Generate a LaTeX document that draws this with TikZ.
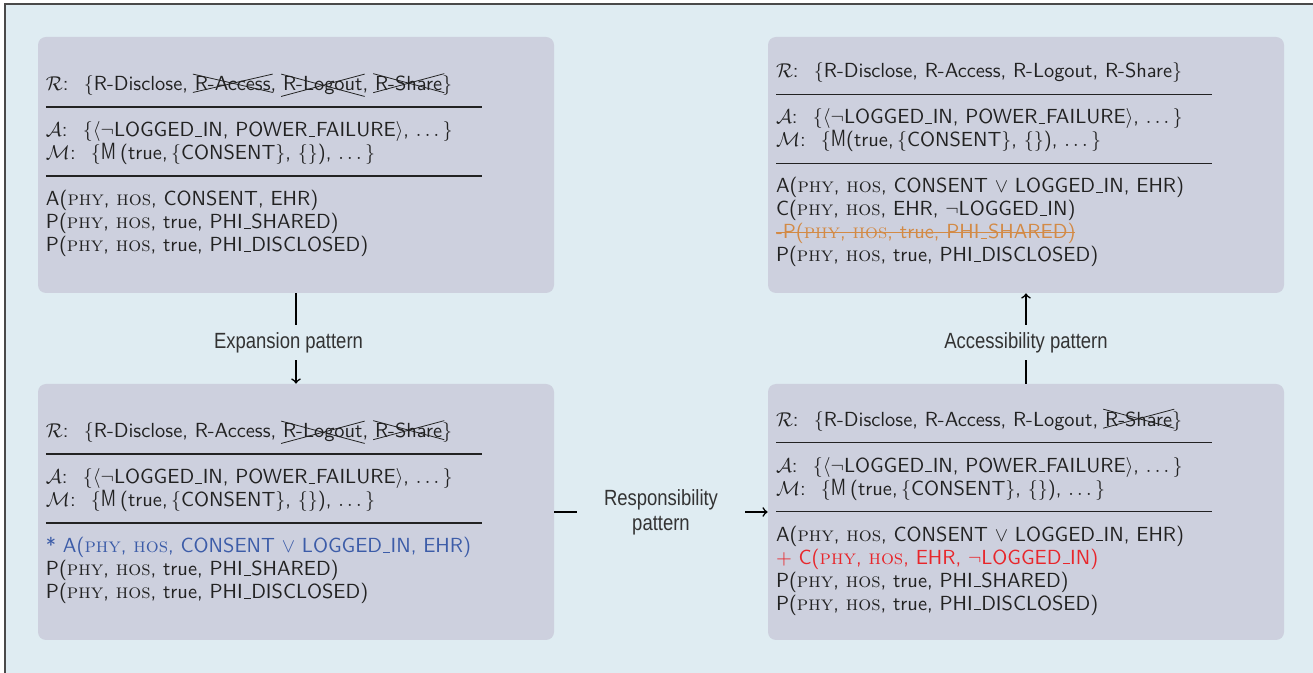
\documentclass[tikz,border=0pt]{standalone}
\usepackage{fontspec}
\usepackage{amsmath}
\usepackage{graphicx}
\usepackage{tikz}

\newfontfamily\labelfont[FakeStretch=0.84]{Liberation Sans}

\definecolor{bgblue}{HTML}{DFECF2}
\definecolor{cardgray}{HTML}{CDD0DE}
\definecolor{frameline}{HTML}{4A4A4A}
\definecolor{textdark}{HTML}{222222}
\definecolor{labelgray}{HTML}{333333}
\definecolor{addred}{HTML}{E8262B}
\definecolor{droporange}{HTML}{D38A45}
\definecolor{modblue}{HTML}{3C5CA8}

\newcommand{\actor}[1]{\textrm{\textsc{#1}}}
\newcommand{\usc}{\kern.06em\rule[-0.1pt]{.33em}{.45pt}\kern.03em}
\newcommand{\secline}{\rule[3pt]{218pt}{0.7pt}}
\newcommand{\lead}[1]{$\mathcal{#1}$:\hspace{0.75em}}
\newcommand{\tallM}{\scalebox{0.85}[1.15]{M}}
% crossed-out role, two thin diagonals over the word
\newcommand{\crossout}[1]{\leavevmode\setbox0\hbox{#1}%
  \pgfmathsetmacro\xang{atan2(\the\dimexpr\ht0+\dp0+2pt\relax,\the\dimexpr\wd0+2pt\relax)}%
  \pgfmathsetmacro\xlen{veclen(\the\dimexpr\ht0+\dp0+2pt\relax,\the\dimexpr\wd0+2pt\relax)}%
  \rlap{\kern-1pt\raisebox{\dimexpr-\dp0-1pt\relax}{\rotatebox{\xang}{\rule{\xlen pt}{0.4pt}}}}%
  \rlap{\kern-1pt\raisebox{\dimexpr\ht0+1pt\relax}{\rotatebox{-\xang}{\rule{\xlen pt}{0.4pt}}}}%
  \box0}
\newcommand{\strike}[1]{\leavevmode\setbox0\hbox{#1}\rlap{\rule[3pt]{\wd0}{0.5pt}}\box0}

\tikzset{
  card/.style={fill=cardgray, rounded corners=4pt, minimum width=258pt,
    minimum height=128pt, text width=250pt, inner xsep=4pt, inner ysep=0pt,
    align=left, text=textdark, font=\sffamily\fontsize{10.2}{11.5}\selectfont},
  flow/.style={->, line width=0.8pt, black},
  lbl/.style={fill=bgblue, inner xsep=2pt, inner ysep=3.5pt, align=center,
    text=labelgray, font=\labelfont\fontsize{11}{12.5}\selectfont}
}

\begin{document}
\begin{tikzpicture}[x=0.5pt,y=-0.5pt]
  \useasboundingbox (0,0) rectangle (1313,673);
  \fill[bgblue] (5,4) rectangle (1313,673);
  \draw[frameline, line width=0.8pt] (5,673)--(5,4)--(1313,4);

  % the four policy states
  \node[card] (start) at (296,165) {
    \lead{R}$\{$R-Disclose, \crossout{R-Access}, \crossout{R-Logout}, \crossout{R-Share}$\}$\\
    \secline\\
    \lead{A}$\{\langle\neg$LOGGED\usc IN, POWER\usc FAILURE$\rangle$, $\dots\}$\\
    \lead{M}$\{$\tallM\kern2pt(true,\,$\{$CONSENT$\}$, $\{\}$), $\dots\}$\\
    \secline\\
    A(\actor{phy}, \actor{hos}, CONSENT, EHR)\\
    P(\actor{phy}, \actor{hos}, true, PHI\usc SHARED)\\
    P(\actor{phy}, \actor{hos}, true, PHI\usc DISCLOSED)};

  \node[card] (expand) at (296,512) {
    \lead{R}$\{$R-Disclose, R-Access, \crossout{R-Logout}, \crossout{R-Share}$\}$\\
    \secline\\
    \lead{A}$\{\langle\neg$LOGGED\usc IN, POWER\usc FAILURE$\rangle$, $\dots\}$\\
    \lead{M}$\{$\tallM\kern2pt(true,\,$\{$CONSENT$\}$, $\{\}$), $\dots\}$\\
    \secline\\
    {\color{modblue}* A(\actor{phy}, \actor{hos}, CONSENT $\vee$ LOGGED\usc IN, EHR)}\\
    P(\actor{phy}, \actor{hos}, true, PHI\usc SHARED)\\
    P(\actor{phy}, \actor{hos}, true, PHI\usc DISCLOSED)};

  \node[card] (resp) at (1026,512) {
    \lead{R}$\{$R-Disclose, R-Access, R-Logout, \crossout{R-Share}$\}$\\
    \secline\\
    \lead{A}$\{\langle\neg$LOGGED\usc IN, POWER\usc FAILURE$\rangle$, $\dots\}$\\
    \lead{M}$\{$\tallM\kern2pt(true,\,$\{$CONSENT$\}$, $\{\}$), $\dots\}$\\
    \secline\\
    A(\actor{phy}, \actor{hos}, CONSENT $\vee$ LOGGED\usc IN, EHR)\\
    {\color{addred}+ C(\actor{phy}, \actor{hos}, EHR, $\neg$LOGGED\usc IN)}\\
    P(\actor{phy}, \actor{hos}, true, PHI\usc SHARED)\\
    P(\actor{phy}, \actor{hos}, true, PHI\usc DISCLOSED)};

  \node[card] (access) at (1026,165) {
    \lead{R}$\{$R-Disclose, R-Access, R-Logout, R-Share$\}$\\
    \secline\\
    \lead{A}$\{\langle\neg$LOGGED\usc IN, POWER\usc FAILURE$\rangle$, $\dots\}$\\
    \lead{M}$\{$\tallM(true,\,$\{$CONSENT$\}$, $\{\}$), $\dots\}$\\
    \secline\\
    A(\actor{phy}, \actor{hos}, CONSENT $\vee$ LOGGED\usc IN, EHR)\\
    C(\actor{phy}, \actor{hos}, EHR, $\neg$LOGGED\usc IN)\\
    {\color{droporange}\strike{-P(\actor{phy}, \actor{hos}, true, PHI\usc SHARED)}}\\
    P(\actor{phy}, \actor{hos}, true, PHI\usc DISCLOSED)};

  % patterns
  \draw[flow] (start) -- node[lbl, xshift=-3.75pt, yshift=-2pt]{Expansion pattern} (expand);
  \draw[flow] (expand) -- node[lbl, inner xsep=13.5pt]{Responsibility\\pattern} (resp);
  \draw[flow] (resp) -- node[lbl, yshift=-2pt]{Accessibility pattern} (access);
\end{tikzpicture}
\end{document}
